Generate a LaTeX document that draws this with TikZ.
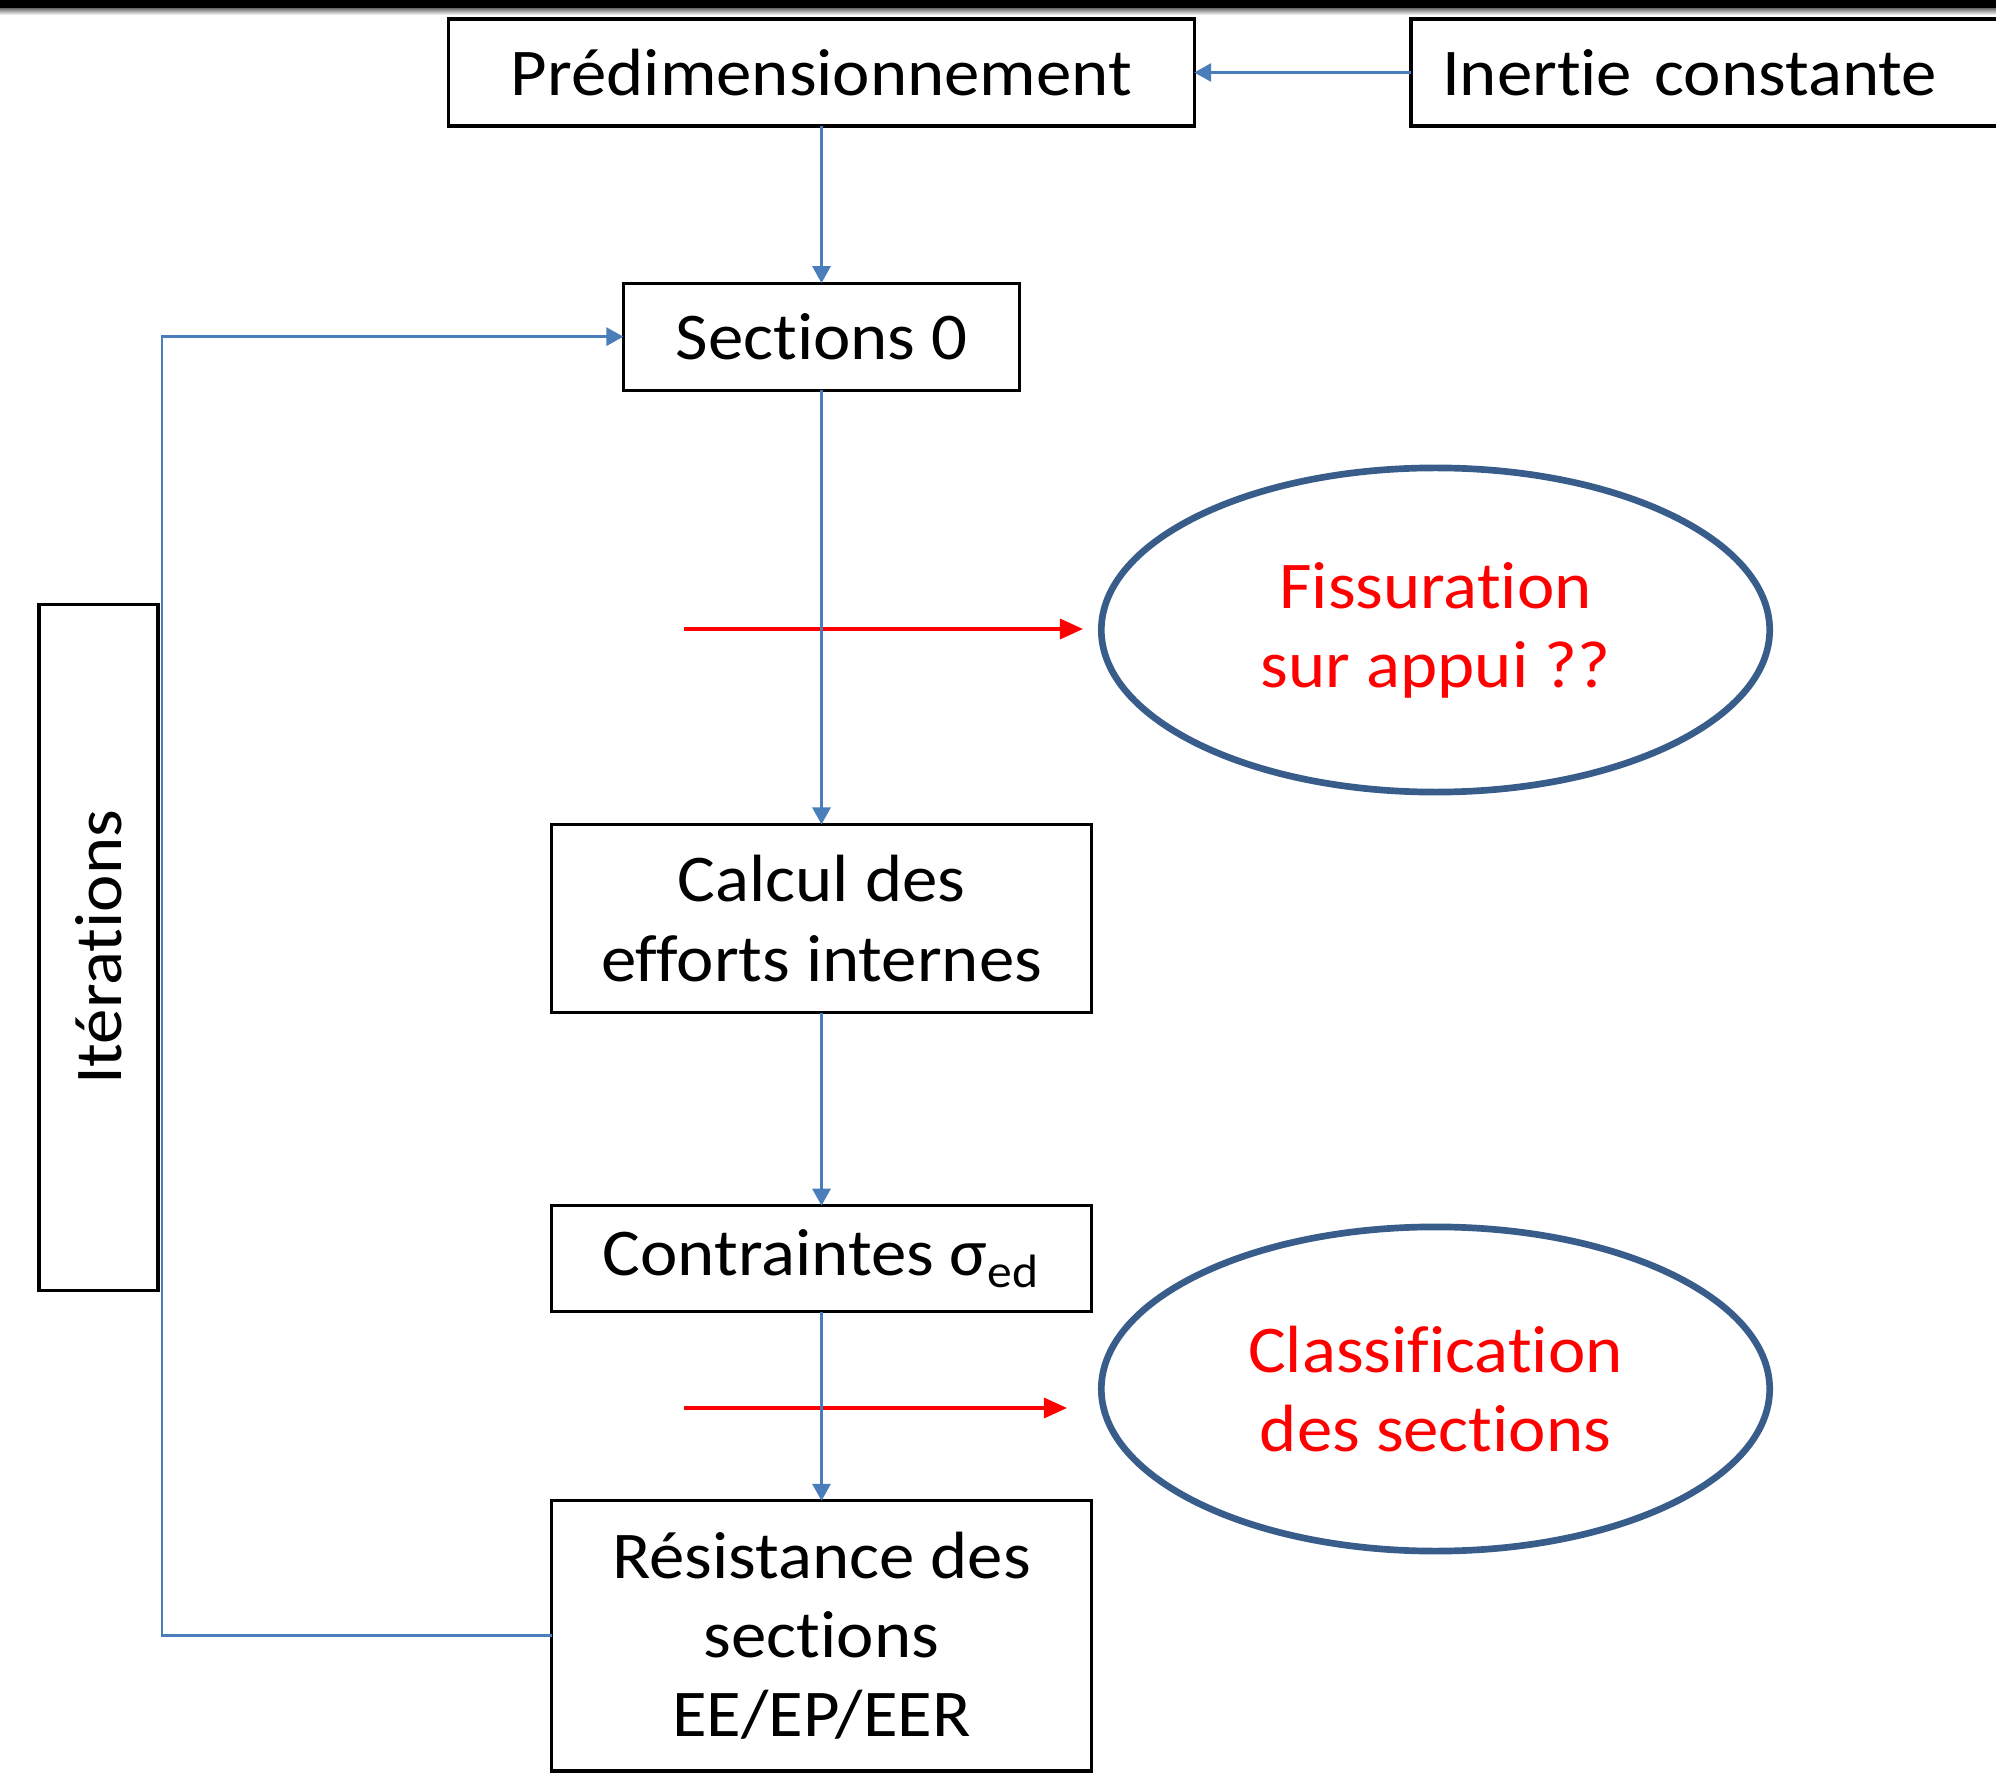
\documentclass[tikz,border=0pt]{standalone}
\usepackage{fontspec}
\setmainfont{Carlito}[Ligatures=NoCommon,FakeStretch=1.06]
\usetikzlibrary{arrows.meta, shapes.geometric, positioning}

\definecolor{lineblue}{RGB}{74,126,187}
\definecolor{ellblue}{RGB}{56,93,138}

\begin{document}
\begin{tikzpicture}[x=0.01cm,y=-0.01cm,
    main node/.style={rectangle,draw=black,line width=0.9pt,inner sep=0pt,outer sep=0pt,align=center,font=\fontsize{19}{22.5}\selectfont},
    red node/.style={ellipse,draw=ellblue,line width=1.9pt,inner sep=0pt,outer sep=0pt,minimum width=6.68cm,minimum height=3.24cm,align=center,text=red,font=\fontsize{19}{22.5}\selectfont},
    blue line/.style={color=lineblue,line width=0.85pt,-{Triangle[length=0.17cm,width=0.18cm]}},
    red line/.style={color=red,line width=0.9pt,-{Triangle[length=0.23cm,width=0.2cm]}}]
        \fill[white] (0,0) rectangle (1996,1773);
        \useasboundingbox (0,0) rectangle (1996,1773);
        \clip (0,0) rectangle (1996,1773);
        \fill[black] (0,0) rectangle (1996,9);
        \shade[top color=gray,bottom color=white] (0,9) rectangle (1996,15);

        \node[main node,minimum width=7.45cm,minimum height=1.07cm] (1) at (821.5,72.5) {Prédimensionnement};
        \node[main node,anchor=west,text width=5.6cm,align=left,inner xsep=0.31cm,minimum height=1.07cm] (2) at (1411,72.5) {Inertie constante};
        \node[main node,minimum width=3.96cm,minimum height=1.07cm,below=1.57cm of 1] (3) {Sections 0};
        \node[main node,minimum width=5.39cm,minimum height=1.88cm,below=4.34cm of 3] (4) {Calcul des\\efforts internes};
        \node[main node,minimum width=5.39cm,minimum height=1.06cm,below=1.93cm of 4] (5) {Contraintes σ\textsubscript{ed}};
        \node[main node,minimum width=5.39cm,minimum height=2.70cm,below=1.89cm of 5] (6) {Résistance des\\sections\\EE/EP/EER};
        \node[main node,rotate=90,minimum width=6.85cm,minimum height=1.19cm] (7) at (98.5,947.5) {Itérations};
        \node[red node] (8) at (1435.5,630) {Fissuration\\sur appui ??};
        \node[red node] (9) at (1435.5,1389) {Classification\\des sections};

        \coordinate (a) at (684,629);
        \coordinate (b) at (1083,629);
        \coordinate (c) at (684,1408);
        \coordinate (d) at (1067,1408);
        \coordinate (loop) at (162,947.5);

        \draw[red line] (a) -- (b);
        \draw[red line] (c) -- (d);

        \path[blue line]
        (2) edge (1)
        (1) edge (3)
        (3) edge (4)
        (4) edge (5)
        (5) edge (6);
        \draw[blue line] (6.west) -| (loop) |- (3.west);
    \end{tikzpicture}
\end{document}
